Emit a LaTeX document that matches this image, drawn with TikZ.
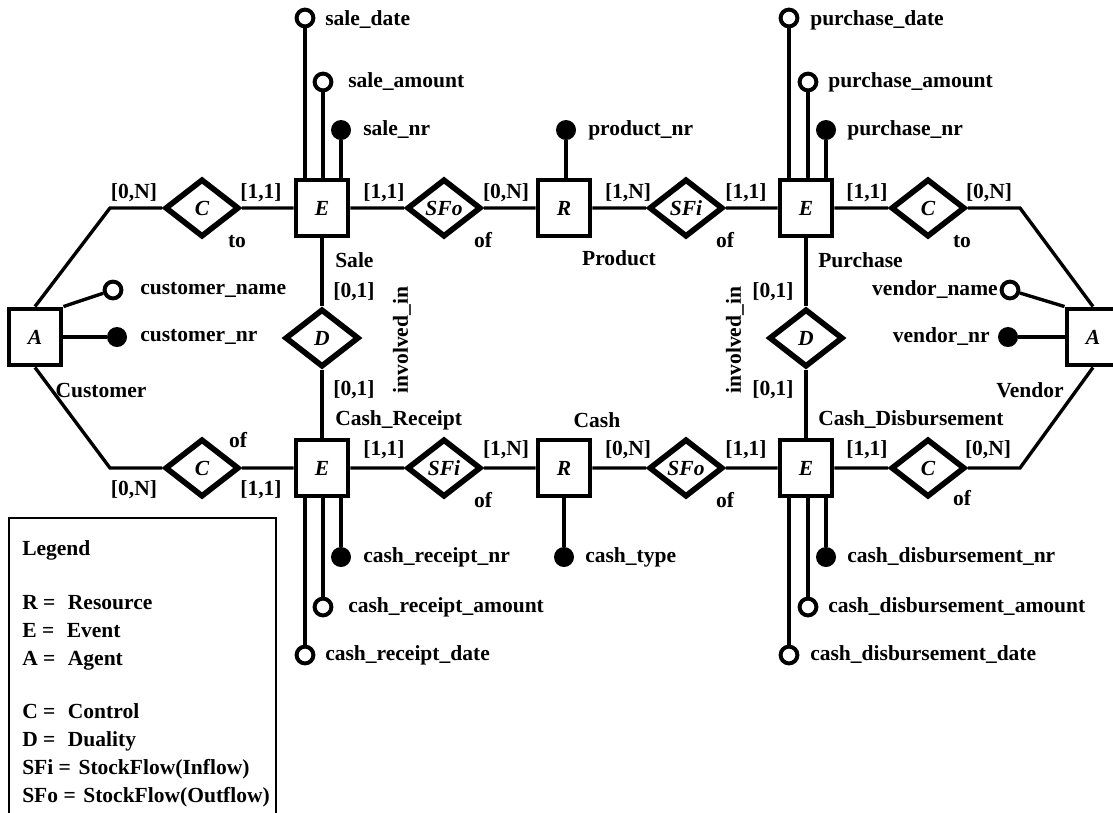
\documentclass[tikz,border=0pt]{standalone}
\usepackage{fontspec}
\setmainfont{Liberation Serif}
\usepackage{tikz}
\usetikzlibrary{shapes.geometric}

\begin{document}
\begin{tikzpicture}[x=0.025cm, y=-0.025cm,
    every node/.style={font=\fontsize{15.3}{18}\selectfont\bfseries, inner sep=0pt},
    ent/.style={draw, rectangle, line width=3.5pt, fill=white, minimum width=1.3cm, minimum height=1.4cm, font=\fontsize{15.3}{18}\selectfont\bfseries\itshape},
    rel/.style={draw, diamond, line width=4pt, fill=white, minimum width=1.85cm, minimum height=1.45cm, font=\fontsize{15.3}{18}\selectfont\bfseries\itshape},
    link/.style={line width=2.4pt},
    attr/.style={draw, circle, line width=2.8pt, fill=white, minimum size=0.42cm},
    idattr/.style={circle, fill=black, minimum size=0.5cm}]
            \useasboundingbox (0,0) rectangle (1113,812);

            % agents, events, resources
            \node[ent] (cust) at (35,337) {A};
            \node[ent] (vend) at (1093,337) {A};
            \node[ent] (sale) at (322,208) {E};
            \node[ent] (purch) at (806,208) {E};
            \node[ent] (crec) at (322,468) {E};
            \node[ent] (cdis) at (806,468) {E};
            \node[ent] (prod) at (564,208) {R};
            \node[ent] (cash) at (564,468) {R};

            % relationships
            \node[rel] (ctl) at (202,208) {C};
            \node[rel] (sfoa) at (444,208) {SFo};
            \node[rel] (sfia) at (686,208) {SFi};
            \node[rel] (ctr) at (928,208) {C};
            \node[rel] (dl) at (322,338) {D};
            \node[rel] (dr) at (806,338) {D};
            \node[rel] (cbl) at (202,468) {C};
            \node[rel] (sfib) at (444,468) {SFi};
            \node[rel] (sfob) at (686,468) {SFo};
            \node[rel] (cbr) at (928,468) {C};

            \coordinate (kl1) at (110,208);
            \coordinate (kl2) at (110,468);
            \coordinate (kr1) at (1020,208);
            \coordinate (kr2) at (1020,468);

            \draw[link] (cust.north) -- (kl1) -- (ctl) -- (sale) -- (sfoa) -- (prod) -- (sfia) -- (purch) -- (ctr) -- (kr1) -- (vend.north);
            \draw[link] (cust.south) -- (kl2) -- (cbl) -- (crec) -- (sfib) -- (cash) -- (sfob) -- (cdis) -- (cbr) -- (kr2) -- (vend.south);
            \draw[link] (sale) -- (dl) -- (crec);
            \draw[link] (purch) -- (dr) -- (cdis);

            % attributes
            \node[attr] (cname) at (113,290) {};
            \node[idattr] (cnr) at (117,337) {};
            \draw[link] (cust.north east) -- (cname);
            \draw[link] (cust) -- (cnr);
            \node[anchor=west] (cnamel) at (140,290) {customer\_name};
            \node[anchor=west] (cnrl) at (140,337) {customer\_nr};

            \node[attr] (vname) at (1010,290) {};
            \node[idattr] (vnr) at (1008,337) {};
            \draw[link] (vend.north west) -- (vname);
            \draw[link] (vend) -- (vnr);
            \node[anchor=east] (vnamel) at (998,290) {vendor\_name};
            \node[anchor=east] (vnrl) at (990,337) {vendor\_nr};

            \node[attr] (sdate) at (305,18) {};
            \node[attr] (samt) at (323,82) {};
            \node[idattr] (snr) at (341,130) {};
            \draw[link] (sdate) -- (sdate |- sale.north);
            \draw[link] (samt) -- (samt |- sale.north);
            \draw[link] (snr) -- (snr |- sale.north);
            \node[anchor=west] (sdatel) at (325,20) {sale\_date};
            \node[anchor=west] (samtl) at (348,82) {sale\_amount};
            \node[anchor=west] (snrl) at (363,130) {sale\_nr};

            \node[idattr] (pnr) at (566,130) {};
            \draw[link] (pnr) -- (pnr |- prod.north);
            \node[anchor=west] (pnrl) at (588,130) {product\_nr};

            \node[attr] (pdate) at (789,18) {};
            \node[attr] (pamt) at (808,82) {};
            \node[idattr] (purnr) at (826,130) {};
            \draw[link] (pdate) -- (pdate |- purch.north);
            \draw[link] (pamt) -- (pamt |- purch.north);
            \draw[link] (purnr) -- (purnr |- purch.north);
            \node[anchor=west] (pdatel) at (810,20) {purchase\_date};
            \node[anchor=west] (pamtl) at (828,82) {purchase\_amount};
            \node[anchor=west] (purnrl) at (847,130) {purchase\_nr};

            \node[idattr] (crnr) at (341,557) {};
            \node[attr] (cramt) at (323,607) {};
            \node[attr] (crdate) at (305,655) {};
            \draw[link] (crnr) -- (crnr |- crec.south);
            \draw[link] (cramt) -- (cramt |- crec.south);
            \draw[link] (crdate) -- (crdate |- crec.south);
            \node[anchor=west] (crnrl) at (363,557) {cash\_receipt\_nr};
            \node[anchor=west] (cramtl) at (348,607) {cash\_receipt\_amount};
            \node[anchor=west] (crdatel) at (325,655) {cash\_receipt\_date};

            \node[idattr] (ctype) at (564,557) {};
            \draw[link] (ctype) -- (ctype |- cash.south);
            \node[anchor=west] (ctypel) at (585,557) {cash\_type};

            \node[idattr] (cdnr) at (826,557) {};
            \node[attr] (cdamt) at (808,607) {};
            \node[attr] (cddate) at (789,655) {};
            \draw[link] (cdnr) -- (cdnr |- cdis.south);
            \draw[link] (cdamt) -- (cdamt |- cdis.south);
            \draw[link] (cddate) -- (cddate |- cdis.south);
            \node[anchor=west] (cdnrl) at (847,557) {cash\_disbursement\_nr};
            \node[anchor=west] (cdamtl) at (828,607) {cash\_disbursement\_amount};
            \node[anchor=west] (cddatel) at (810,655) {cash\_disbursement\_date};

            % names and cardinalities, top row
            \node (t1) at (134,193) {[0,N]};
            \node (t2) at (261,193) {[1,1]};
            \node (t3) at (237,242) {to};
            \node (t4) at (384,193) {[1,1]};
            \node (t5) at (506,193) {[0,N]};
            \node (t6) at (483,240) {of};
            \node (t7) at (628,193) {[1,N]};
            \node (t8) at (725,240) {of};
            \node (t9) at (746,193) {[1,1]};
            \node (t10) at (867,193) {[1,1]};
            \node (t11) at (989,193) {[0,N]};
            \node (t12) at (962,242) {to};
            \node[anchor=west] (salel) at (335,260) {Sale};
            \node (prodl) at (619,258) {Product};
            \node[anchor=west] (purchl) at (818,260) {Purchase};

            % middle
            \node (m1) at (354,292) {[0,1]};
            \node (m2) at (354,390) {[0,1]};
            \node (m3) at (773,292) {[0,1]};
            \node (m4) at (773,390) {[0,1]};
            \node[rotate=90] (invl) at (402,340) {involved\_in};
            \node[rotate=90] (invr) at (735,340) {involved\_in};
            \node (custl) at (101,390) {Customer};
            \node (vendl) at (1030,390) {Vendor};
            \node[anchor=west] (crecl) at (335,420) {Cash\_Receipt};
            \node[anchor=west] (cdisl) at (818,420) {Cash\_Disbursement};
            \node (cashl) at (597,420) {Cash};

            % bottom row
            \node (b1) at (134,490) {[0,N]};
            \node (b2) at (261,490) {[1,1]};
            \node (b3) at (238,440) {of};
            \node (b4) at (384,450) {[1,1]};
            \node (b5) at (506,450) {[1,N]};
            \node (b6) at (483,500) {of};
            \node (b7) at (628,450) {[0,N]};
            \node (b8) at (725,500) {of};
            \node (b9) at (746,450) {[1,1]};
            \node (b10) at (867,450) {[1,1]};
            \node (b11) at (988,450) {[0,N]};
            \node (b12) at (962,498) {of};

            % legend
            \node[draw, line width=1.5pt, anchor=north west, minimum width=6.675cm, minimum height=7.45cm] (legbox) at (8,517) {};
            \node[anchor=north west, align=left, font=\fontsize{15.3}{19.95}\selectfont\bfseries] (legend) at (22,540) {Legend\\[18.8pt]
                R =\hspace{0.58em}Resource\\
                E =\hspace{0.58em}Event\\
                A =\hspace{0.58em}Agent\\[17.4pt]
                C =\hspace{0.58em}Control\\
                D =\hspace{0.58em}Duality\\
                SFi =\hspace{0.35em}StockFlow(Inflow)\\
                SFo =\hspace{0.35em}StockFlow(Outflow)};
\end{tikzpicture}
\end{document}
